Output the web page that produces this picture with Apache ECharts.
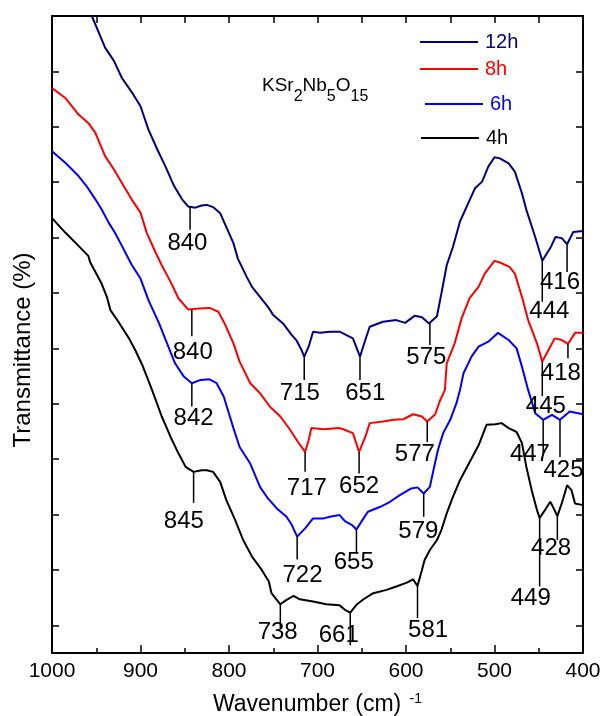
<!DOCTYPE html>
<html>
<head>
<meta charset="utf-8">
<script src="https://cdn.jsdelivr.net/npm/echarts@6/dist/echarts.min.js"></script>
<style>
html,body{margin:0;padding:0;background:#fff;}
#chart{width:603px;height:716px;}
</style>
</head>
<body>
<div id="chart"></div>
<script>
// ---- data (wavenumber cm^-1, transmittance in arbitrary units) ----
const seriesNames = ['12h', '8h', '6h', '4h'];
const seriesColors = ['#000080', '#ff0000', '#0000ff', '#000000'];

const d12h = [[1000,13.70],[955,12.00],[940,11.43],[930,11.19],[921,10.88],[908,10.58],[900,10.37],[891,9.95],[881,9.59],[872,9.29],[862,8.93],[853,8.69],[846,8.56],[838,8.54],[831,8.58],[825,8.59],[818,8.55],[810,8.44],[803,8.19],[795,7.90],[790,7.62],[780,7.29],[774,7.11],[765,6.93],[756,6.75],[750,6.60],[739,6.45],[729,6.24],[724,6.15],[718,5.97],[715,5.85],[710,6.03],[705,6.30],[697,6.28],[686,6.30],[675,6.30],[660,6.18],[652,5.85],[646,6.15],[641,6.39],[626,6.48],[611,6.51],[601,6.46],[590,6.59],[582,6.56],[574,6.45],[565,6.58],[560,6.99],[554,7.50],[547,7.83],[539,8.29],[528,8.68],[522,8.89],[514,9.01],[507,9.28],[500,9.45],[494,9.43],[484,9.34],[477,9.19],[469,8.80],[464,8.50],[454,8.01],[446,7.58],[437,7.81],[431,8.01],[424,7.99],[418,7.88],[411,8.10],[400,8.12]];

const d8h = [[1000,10.70],[985,10.52],[970,10.22],[959,10.07],[951,9.89],[940,9.47],[930,9.23],[919,8.93],[910,8.69],[900,8.45],[893,8.09],[883,7.73],[876,7.50],[866,7.20],[857,6.90],[846,6.70],[834,6.72],[822,6.73],[812,6.66],[805,6.45],[795,6.09],[788,5.76],[776,5.37],[765,5.19],[754,4.95],[742,4.77],[731,4.53],[722,4.31],[714,4.13],[710,4.34],[707,4.56],[693,4.54],[675,4.56],[671,4.54],[660,4.47],[653,4.13],[646,4.40],[641,4.65],[626,4.68],[614,4.71],[603,4.72],[592,4.81],[582,4.77],[576,4.68],[567,4.81],[562,5.04],[556,5.25],[554,5.73],[545,6.09],[537,6.55],[528,6.91],[518,7.11],[511,7.35],[500,7.58],[494,7.55],[483,7.47],[477,7.35],[469,6.93],[462,6.51],[452,6.09],[446,5.76],[439,5.97],[432,6.18],[424,6.15],[417,6.08],[409,6.28],[400,6.28]];

const d6h = [[1000,9.56],[985,9.35],[970,9.11],[961,8.93],[951,8.69],[944,8.51],[936,8.27],[929,8.09],[921,7.85],[910,7.51],[900,7.26],[891,6.87],[879,6.45],[870,6.09],[861,5.73],[851,5.49],[842,5.37],[832,5.43],[822,5.44],[814,5.37],[806,5.13],[799,4.77],[795,4.56],[788,4.22],[776,3.92],[765,3.50],[756,3.29],[746,3.11],[735,2.96],[729,2.81],[723,2.60],[714,2.75],[705,2.93],[693,2.93],[686,2.96],[675,2.99],[669,2.88],[661,2.81],[656,2.73],[648,2.93],[643,3.05],[629,3.14],[618,3.23],[607,3.35],[594,3.47],[587,3.49],[580,3.38],[573,3.50],[569,3.80],[564,4.16],[558,4.47],[550,4.71],[543,5.01],[539,5.25],[535,5.55],[526,5.85],[518,6.03],[507,6.12],[496,6.28],[484,6.15],[475,6.00],[469,5.67],[462,5.25],[454,4.83],[445,4.71],[435,4.80],[426,4.71],[415,4.86],[400,4.81]];

const d4h = [[1000,8.35],[985,8.09],[970,7.85],[959,7.67],[957,7.56],[944,7.17],[938,6.93],[934,6.69],[925,6.48],[913,6.18],[906,5.97],[898,5.70],[887,5.25],[876,4.77],[866,4.40],[857,4.10],[849,3.86],[840,3.77],[831,3.80],[825,3.80],[818,3.77],[810,3.59],[803,3.26],[793,2.90],[784,2.54],[774,2.24],[763,2.00],[755,1.79],[752,1.58],[742,1.38],[735,1.46],[727,1.53],[720,1.47],[705,1.43],[690,1.38],[675,1.36],[669,1.28],[663,1.23],[656,1.37],[648,1.47],[637,1.58],[622,1.64],[611,1.70],[599,1.77],[592,1.83],[587,1.71],[582,2.00],[579,2.18],[573,2.36],[565,2.54],[560,2.72],[554,3.02],[547,3.32],[539,3.62],[530,3.89],[518,4.25],[509,4.62],[499,4.63],[492,4.65],[484,4.56],[475,4.49],[469,4.29],[464,3.86],[458,3.44],[452,3.08],[449,2.94],[443,3.08],[437,3.23],[434,3.14],[429,2.97],[424,3.20],[418,3.53],[413,3.44],[409,3.20],[400,3.17]];

// peak annotations: [line position (cm^-1), line end (T), label, label x (cm^-1), label y (T)]
const ann12h = [[844,8.14,'840',847,7.90],[715,5.43,'715',720,5.19],[652,5.43,'651',646,5.18],[573,6.06,'575',577,5.83],[446,6.84,'444',438,6.66],[418,7.38,'416',426,7.20]];
const ann8h  = [[842,6.22,'840',841,5.93],[714,3.77,'717',712,3.48],[653,3.74,'652',653,3.50],[576,4.31,'577',590,4.09],[446,5.14,'445',442,4.96],[417,5.82,'418',425,5.55]];
const ann6h  = [[842,4.95,'842',840,4.74],[723,2.19,'722',717,1.91],[656,2.30,'655',659,2.14],[580,2.96,'579',586,2.70],[445,4.07,'447',460,4.09],[426,4.04,'425',422,3.79]];
const ann4h  = [[840,3.21,'845',851,2.88],[742,0.95,'738',745,0.88],[663,0.64,'661',676,0.81],[587,1.13,'581',575,0.90],[449,1.70,'449',459,1.49],[429,2.54,'428',436,2.38]];

// formula pieces: [text, isSubscript]
const formulaParts = [['KSr',0],['2',1],['Nb',0],['5',1],['O',0],['15',1]];

const xRange = [400, 1000];
const yRange = [0.5, 12];
const yTicks = [1,2,3,4,5,6,7,8,9,10,11];

// ---- chart ----
const FONT = '"Liberation Sans", Arial, Helvetica, sans-serif';
const seriesData = {'12h': d12h, '8h': d8h, '6h': d6h, '4h': d4h};
const annData = {'12h': ann12h, '8h': ann8h, '6h': ann6h, '4h': ann4h};

function curveAt(name, wn) {
  const d = seriesData[name];
  for (let i = 0; i < d.length - 1; i++) {
    const a = d[i], b = d[i + 1];
    if (wn <= a[0] && wn >= b[0]) {
      const t = (a[0] - wn) / (a[0] - b[0]);
      return a[1] + (b[1] - a[1]) * t;
    }
  }
  return d[d.length - 1][1];
}

const allAnn = [];
seriesNames.forEach(n => annData[n].forEach(a => allAnn.push({s: n, a: a})));

// formula text built from measured pieces
const mctx = document.createElement('canvas').getContext('2d');
const formulaEls = [];
(function () {
  let x = 262;
  const baseBottom = 95, subBottom = 105;
  formulaParts.forEach(p => {
    const fs = p[1] ? 16 : 19;
    const font = fs + 'px ' + FONT;
    mctx.font = font;
    const w = mctx.measureText(p[0]).width;
    formulaEls.push({
      type: 'text', x: x, y: p[1] ? subBottom : baseBottom, silent: true,
      style: {text: p[0], font: font, fill: '#000', align: 'left', verticalAlign: 'bottom'}
    });
    x += w;
  });
})();

const chart = echarts.init(document.getElementById('chart'), null, {renderer: 'canvas'});

const axisLineStyle = {color: '#000', width: 2};
const tickStyle = {color: '#000', width: 1.5};

const legendTops = {'12h': 32, '8h': 59, '6h': 94, '4h': 128};
const legendLefts = {'12h': 420, '8h': 420, '6h': 425, '4h': 421};

const option = {
  animation: false,
  backgroundColor: '#fff',
  grid: {left: 52, right: 20, top: 16, bottom: 63, containLabel: false, outerBoundsMode: 'none'},
  legend: seriesNames.map((n, i) => ({
    data: [n],
    left: legendLefts[n],
    top: legendTops[n],
    orient: 'vertical',
    padding: 0,
    icon: 'rect',
    itemWidth: 58,
    itemHeight: 2,
    itemGap: 6,
    selectedMode: false,
    itemStyle: {color: seriesColors[i]},
    textStyle: {color: seriesColors[i], fontSize: 20, fontFamily: FONT, padding: [0, 0, 0, 2], lineHeight: 20}
  })),
  xAxis: [{
    type: 'value', min: xRange[0], max: xRange[1], inverse: true, interval: 100,
    position: 'bottom',
    axisLine: {show: true, onZero: false, lineStyle: axisLineStyle},
    axisTick: {show: true, inside: true, length: 8, lineStyle: tickStyle},
    minorTick: {show: true, splitNumber: 2, length: 5, lineStyle: tickStyle},
    axisLabel: {show: true, fontSize: 21, color: '#000', margin: 8, fontFamily: FONT, formatter: v => String(v)},
    splitLine: {show: false},
    name: 'Wavenumber (cm) {sup|-1}',
    nameLocation: 'middle',
    nameGap: 39,
    nameTextStyle: {fontSize: 23, color: '#000', fontFamily: FONT, lineHeight: 26,
      rich: {sup: {fontSize: 14, color: '#000', fontFamily: FONT, lineHeight: 14, verticalAlign: 'top', padding: [0,0,0,2]}}}
  }, {
    type: 'value', min: xRange[0], max: xRange[1], inverse: true, interval: 50,
    position: 'top',
    axisLine: {show: true, onZero: false, lineStyle: axisLineStyle},
    axisTick: {show: true, inside: true, length: 7, lineStyle: tickStyle},
    axisLabel: {show: false},
    splitLine: {show: false}
  }],
  yAxis: [{
    type: 'value', min: yRange[0], max: yRange[1], position: 'left',
    axisLine: {show: true, onZero: false, lineStyle: axisLineStyle},
    axisTick: {show: true, inside: true, length: 7, lineStyle: tickStyle, customValues: yTicks},
    axisLabel: {show: false},
    splitLine: {show: false},
    name: 'Transmittance (%)',
    nameLocation: 'middle',
    nameGap: 17,
    nameTextStyle: {fontSize: 24, color: '#000', fontFamily: FONT, padding: [0, 31, 0, 0]}
  }, {
    type: 'value', min: yRange[0], max: yRange[1], position: 'right',
    axisLine: {show: true, onZero: false, lineStyle: axisLineStyle},
    axisTick: {show: true, inside: true, length: 7, lineStyle: tickStyle, customValues: yTicks},
    axisLabel: {show: false},
    splitLine: {show: false}
  }],
  graphic: [{type: 'group', children: formulaEls}],
  series: seriesNames.map((n, i) => ({
    name: n,
    type: 'line',
    data: seriesData[n],
    showSymbol: false,
    symbol: 'none',
    smooth: false,
    clip: true,
    lineStyle: {color: seriesColors[i], width: 2},
    itemStyle: {color: seriesColors[i]},
    z: 3
  })).concat([{
    name: 'annotations',
    type: 'custom',
    clip: false,
    z: 4,
    data: allAnn.map(o => [o.a[0], o.a[1]]),
    renderItem: function (params, api) {
      const o = allAnn[params.dataIndex];
      const a = o.a;
      const p0 = api.coord([a[0], curveAt(o.s, a[0])]);
      const p1 = api.coord([a[0], a[1]]);
      const pl = api.coord([a[3], a[4]]);
      return {
        type: 'group',
        children: [{
          type: 'line',
          shape: {x1: p0[0], y1: p0[1], x2: p1[0], y2: p1[1]},
          style: {stroke: '#000', lineWidth: 1.5}
        }, {
          type: 'text',
          style: {
            text: a[2], x: pl[0], y: pl[1], align: 'center', verticalAlign: 'middle',
            font: '24px ' + FONT, fill: '#000'
          }
        }]
      };
    }
  }])
};

chart.setOption(option);
</script>
</body>
</html>
